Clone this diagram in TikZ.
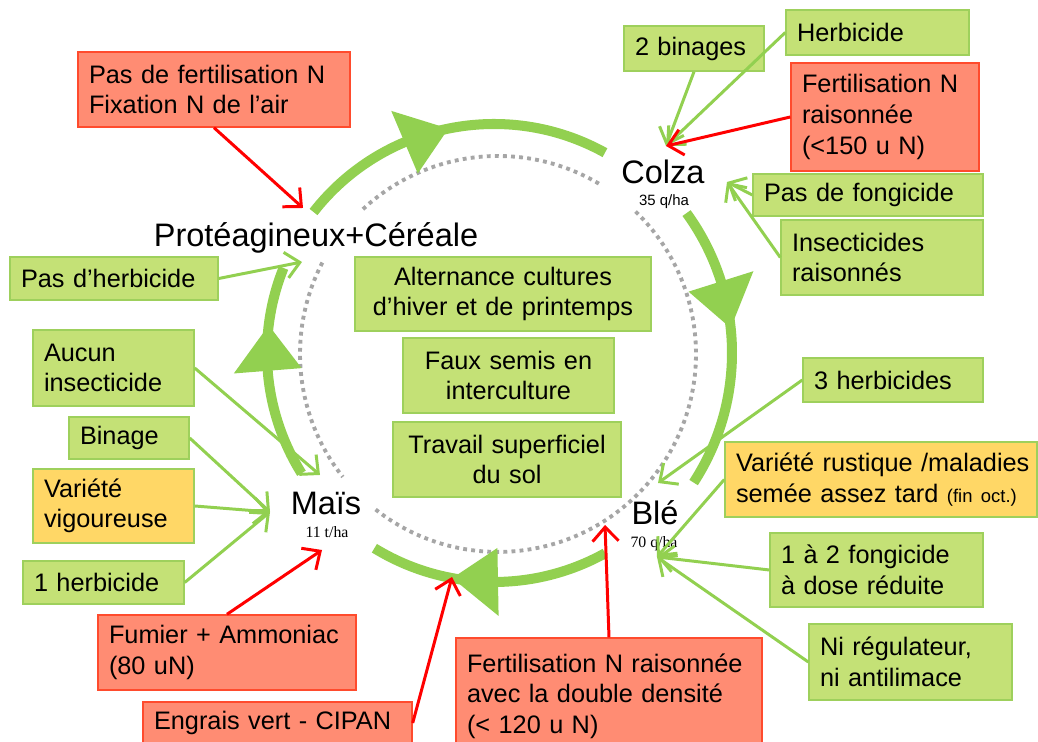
\documentclass[tikz,border=0pt]{standalone}
\usepackage{fontspec}
\setmainfont{Liberation Sans}
\newfontfamily\yieldserif{Liberation Serif}
\usetikzlibrary{arrows.meta}

\definecolor{leafgreen}{RGB}{146,208,80}
\definecolor{boxgreen}{RGB}{196,225,118}
\definecolor{boxgreenline}{RGB}{158,208,92}
\definecolor{boxred}{RGB}{255,140,115}
\definecolor{boxredline}{RGB}{255,75,45}
\definecolor{boxyellow}{RGB}{255,215,102}
\definecolor{dotgray}{RGB}{166,166,166}

\tikzset{
  sz/.code 2 args={\pgfmathsetlengthmacro\boxtw{(#1-22)*0.02cm}%
    \pgfmathsetlengthmacro\boxmh{#2*0.02cm}%
    \pgfkeysalso{text width=\boxtw, minimum height=\boxmh}},
  box/.style={draw, line width=0.8pt, inner xsep=0.22cm, inner ysep=0pt, align=left,
    font=\fontsize{14.4}{17.4}\selectfont},
  gbox/.style={box, fill=boxgreen, draw=boxgreenline},
  rbox/.style={box, fill=boxred, draw=boxredline},
  ybox/.style={box, fill=boxyellow, draw=boxgreenline},
  mid/.style={align=center},
  crop/.style={anchor=base, inner sep=0pt, font=\fontsize{18.5}{22}\selectfont},
  yield/.style={anchor=base, inner sep=0pt, font=\yieldserif\fontsize{9}{10}\selectfont},
  yieldsans/.style={anchor=base, inner sep=0pt, font=\fontsize{8.5}{10}\selectfont},
  garrow/.style={leafgreen, line width=1.7pt, -{Straight Barb[length=2.8mm,width=5.2mm]}},
  rarrow/.style={red, line width=1.7pt, -{Straight Barb[length=2.8mm,width=5.2mm]}},
  cyclearc/.style={leafgreen, line width=5.7pt},
  dotring/.style={dotgray, line width=2.2pt, dash pattern=on 2.2pt off 2.4pt},
}

\newcommand{\cyclehead}[3]{\fill[leafgreen] (#1:#3-34) -- (#2:#3) -- (#1:#3+34) -- cycle;}

\begin{document}
\begin{tikzpicture}[x=0.02cm, y=0.02cm]
 \useasboundingbox (0,0) rectangle (1038,742);
 \clip (0,0) rectangle (1038,742);

 \begin{scope}[shift={(498,388)}]
  \draw[dotring] (133:198) arc[start angle=133, end angle=58.4, radius=3.96cm];
  \draw[dotring] (46:198) arc[start angle=46, end angle=-128.4, radius=3.96cm];
  \draw[dotring] (152.5:198) arc[start angle=152.5, end angle=218.4, radius=3.96cm];
 \end{scope}

 \begin{scope}[shift={(494,389)}]
  \draw[cyclearc] (142:229) arc[start angle=142, end angle=61, radius=4.58cm];
  \cyclehead{113}{101.5}{229}
  \draw[cyclearc] (36:238) arc[start angle=36, end angle=-33, radius=4.76cm];
  \cyclehead{17.5}{6}{238}
  \draw[cyclearc] (-61:229) arc[start angle=-61, end angle=-121.5, radius=4.58cm];
  \cyclehead{-89}{-100.5}{229}
  \draw[cyclearc] (212:227) arc[start angle=212, end angle=158, radius=4.54cm];
  \cyclehead{184.5}{173}{227}
 \end{scope}

 \node[rbox, sz={272}{75}] (pfix) at (214,652.5) {Pas de fertilisation N\\Fixation N de l’air};
 \node[gbox, sz={208}{43}] (pherb) at (114,463.5) {Pas d’herbicide};
 \node[gbox, sz={140}{45}] (binages) at (694,693.5) {2 binages};
 \node[gbox, sz={183}{45}] (herbi) at (877.5,709.5) {Herbicide};
 \node[rbox, sz={188}{108}] (fertc) at (885,625) {Fertilisation N\\raisonnée\\(<150 u N)};
 \node[gbox, sz={230}{42}] (pfong) at (868,547) {Pas de fongicide};
 \node[gbox, sz={202}{75}] (insect) at (882,484.5) {Insecticides\\raisonnés};
 \node[gbox, sz={180}{44}] (herb3) at (893,362) {3 herbicides};
 \node[ybox, sz={312}{75}] (varr) at (881,262.5) {\mbox{Variété rustique /maladies}\\semée assez tard {\fontsize{10.5}{12}\selectfont(fin oct.)}};
 \node[gbox, sz={213}{74}] (fong) at (876.5,172) {1 à 2 fongicide\\à dose réduite};
 \node[gbox, sz={203}{76}] (nireg) at (910.5,80) {Ni régulateur,\\ni antilimace};
 \node[rbox, sz={306}{116}] (fertb) at (609,46) {Fertilisation N raisonnée\\avec la double densité\\(< 120 u N)};
 \node[rbox, sz={269}{42}] (engrais) at (277.5,19) {Engrais vert - CIPAN};
 \node[rbox, sz={258}{75}] (fumier) at (227,89.5) {Fumier + Ammoniac\\(80 uN)};
 \node[gbox, sz={161}{76}] (aucun) at (113.5,374) {Aucun\\insecticide};
 \node[gbox, sz={120}{42}] (binage) at (129,304) {Binage};
 \node[ybox, sz={161}{74}] (varv) at (113.5,236) {Variété\\vigoureuse};
 \node[gbox, sz={161}{43}] (herb1) at (103.5,159.5) {1 herbicide};
 \node[gbox, mid, sz={296}{74}] (altern) at (503,448) {Alternance cultures\\d’hiver et de printemps};
 \node[gbox, mid, sz={211}{75}] (faux) at (508.5,366.5) {Faux semis en\\interculture};
 \node[gbox, mid, sz={228}{75}] (travail) at (507,282.5) {Travail superficiel\\du sol};

 \node[crop] (prot) at (316,495) {Protéagineux+Céréale};
 \node[crop] (colza) at (663,558) {Colza};
 \node[yieldsans] (colzay) at (664,536) {35 q/ha};
 \node[crop] (mais) at (326,227) {Maïs};
 \node[yield] (maisy) at (327,204) {11 t/ha};
 \node[crop] (ble) at (655,217) {Blé};
 \node[yield] (bley) at (654,194) {70 q/ha};

 \coordinate (prot n) at (303,534);
 \coordinate (prot w) at (302,480);
 \coordinate (colza n) at (666,596);
 \coordinate (colza e) at (727,560);
 \coordinate (ble n) at (658,259);
 \coordinate (ble e) at (657,185);
 \coordinate (ble s) at (605,217);
 \coordinate (bas) at (452,165);
 \coordinate (mais s) at (322,192);
 \coordinate (mais n) at (320,267);
 \coordinate (mais w) at (270,230);

 \draw[rarrow] (pfix.south) -- (prot n);
 \draw[garrow] (pherb.east) -- (prot w);
 \draw[garrow] (binages.south) -- (colza n);
 \draw[garrow] (herbi.west) -- (colza n);
 \draw[rarrow] (fertc.west) -- (colza n);
 \draw[garrow] (pfong.west) -- (colza e);
 \draw[garrow] (insect.west) -- (colza e);
 \draw[garrow] (herb3.west) -- (ble n);
 \draw[garrow] (varr.west) -- (ble e);
 \draw[garrow] (fong.west) -- (ble e);
 \draw[garrow] (nireg.west) -- (ble e);
 \draw[rarrow] (fertb.north) -- (ble s);
 \draw[rarrow] (engrais.east) -- (bas);
 \draw[rarrow] (fumier.north) -- (mais s);
 \draw[garrow] (aucun.east) -- (mais n);
 \draw[garrow] (binage.east) -- (mais w);
 \draw[garrow] (varv.east) -- (mais w);
 \draw[garrow] (herb1.east) -- (mais w);
\end{tikzpicture}
\end{document}
